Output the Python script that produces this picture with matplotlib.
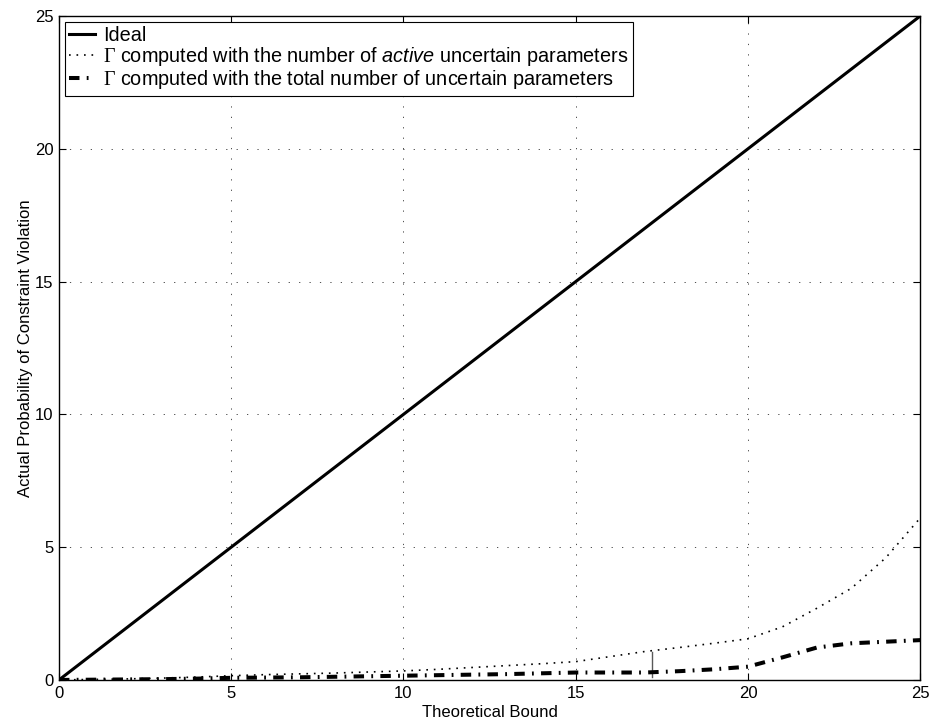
import matplotlib
matplotlib.use("Agg")
import matplotlib.pyplot as plt
import numpy as np

plt.rcParams['font.family'] = ['Liberation Sans', 'DejaVu Sans']
plt.rcParams['mathtext.fontset'] = 'custom'
plt.rcParams['mathtext.rm'] = 'Liberation Serif'
plt.rcParams['mathtext.it'] = 'Liberation Sans:italic'

# Data
ideal_x = [0, 25]
ideal_y = [0, 25]
x = list(range(26))
active_y = [0, 0.02, 0.04, 0.07, 0.11, 0.16, 0.20, 0.23, 0.26, 0.30, 0.34,
            0.40, 0.47, 0.54, 0.61, 0.69, 0.88, 1.07, 1.22, 1.38, 1.55,
            2.00, 2.70, 3.45, 4.60, 6.10]
total_y = [0, 0.01, 0.02, 0.03, 0.05, 0.08, 0.09, 0.10, 0.12, 0.14, 0.16,
           0.18, 0.20, 0.22, 0.25, 0.28, 0.28, 0.28, 0.33, 0.40, 0.50,
           0.85, 1.22, 1.38, 1.44, 1.50]
vline_x = 17.2
vline_y = [0.10, 1.07]
ticks = [0, 5, 10, 15, 20, 25]
labels = ["Ideal",
          r"$\Gamma$ computed with the number of $\mathit{active}$ uncertain parameters",
          r"$\Gamma$ computed with the total number of uncertain parameters"]

fig = plt.figure(figsize=(9.39, 7.28), dpi=100)
ax = fig.add_axes([0.0628, 0.066, 0.9172, 0.912])

ax.plot(ideal_x, ideal_y, color='black', lw=2.2, label=labels[0], zorder=3)
ax.plot(x, active_y, color='black', lw=1.2, linestyle=(0, (1, 3.5)),
        label=labels[1], zorder=3)
ax.plot(x, total_y, color='black', lw=2.9, linestyle=(0, (2.6, 1.8, 0.45, 1.8)),
        dash_capstyle='butt', label=labels[2], zorder=3)
ax.plot([vline_x, vline_x], vline_y, color='0.35', lw=1.0, zorder=2)

ax.set_xlim(0, 25)
ax.set_ylim(0, 25)
ax.set_xticks(ticks)
ax.set_yticks(ticks)
ax.tick_params(direction='in', top=True, right=True, labelsize=12, length=5,
               width=0.8, pad=4)
ax.grid(True, color='0.2', linestyle=(0, (1.5, 11)), linewidth=0.6)
for s in ax.spines.values():
    s.set_linewidth(1.0)

ax.set_xlabel("Theoretical Bound", fontsize=12, labelpad=3)
ax.set_ylabel("Actual Probability of Constraint Violation", fontsize=12, labelpad=1)

leg = ax.legend(loc='upper left', fontsize=14.3, frameon=True, fancybox=False,
                edgecolor='black', framealpha=1, handlelength=1.3,
                borderaxespad=0.3, labelspacing=0.0, borderpad=0.22,
                handletextpad=0.4)
leg.get_frame().set_linewidth(0.8)

fig.savefig("out.png", dpi=100)
